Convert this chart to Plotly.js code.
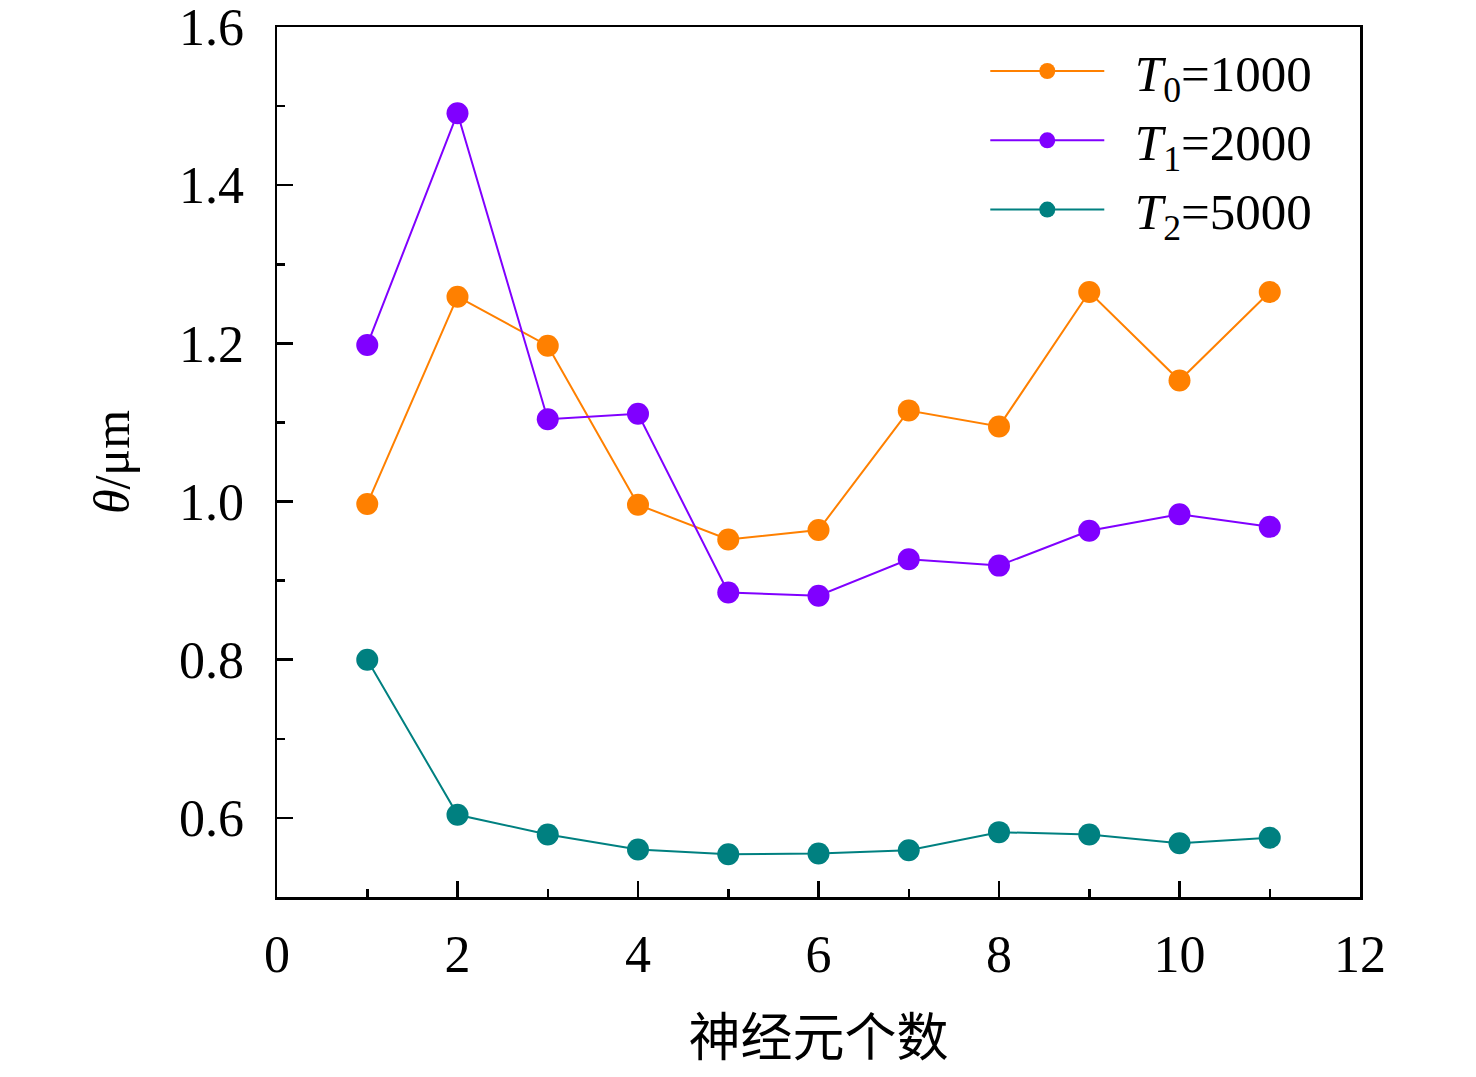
<!DOCTYPE html>
<html>
<head>
<meta charset="utf-8">
<script src="https://cdn.plot.ly/plotly-3.0.1.min.js"></script>
<style>html,body{margin:0;padding:0;background:#fff;}#chart{width:1476px;height:1077px;}</style>
</head>
<body>
<div id="chart"></div>
<script>
const neurons = [1,2,3,4,5,6,7,8,9,10,11];
const t0Values = [0.997,1.259,1.197,0.996,0.952,0.964,1.115,1.095,1.265,1.153,1.265];
const t1Values = [1.198,1.491,1.104,1.111,0.885,0.881,0.927,0.919,0.963,0.984,0.968];
const t2Values = [0.800,0.604,0.579,0.560,0.554,0.555,0.559,0.582,0.579,0.568,0.575];
const seriesNames = ['  <i>T</i><sub>0</sub>=1000','  <i>T</i><sub>1</sub>=2000','  <i>T</i><sub>2</sub>=5000'];
const seriesColors = ['#FF8000','#8000FF','#008080'];
const xTitle = '神经元个数';
const yTitle = '<i>θ</i>/μm';

const serif = 'Liberation Serif';
const allValues = [t0Values, t1Values, t2Values];
const traces = allValues.map((vals, i) => ({
  x: neurons, y: vals, type: 'scatter', mode: 'lines+markers',
  name: seriesNames[i],
  line: {color: seriesColors[i], width: 2},
  marker: {color: seriesColors[i], size: 22}
}));

const layout = {
  width: 1476, height: 1077,
  margin: {l: 277, r: 116, t: 27, b: 180},
  paper_bgcolor: '#fff', plot_bgcolor: '#fff',
  font: {family: serif, size: 52, color: '#000'},
  showlegend: true,
  legend: {x: 0.654, y: 0.995, xanchor: 'left', yanchor: 'top',
    font: {family: serif, size: 51, color: '#000'}, bgcolor: 'rgba(0,0,0,0)',
    itemwidth: 114, tracegroupgap: 0},
  xaxis: {range: [0, 12], dtick: 2, tick0: 0, showgrid: false, zeroline: false,
    showline: true, linecolor: '#000', linewidth: 2.5, mirror: true,
    ticks: 'inside', ticklen: 16, tickwidth: 2.5, tickcolor: '#000',
    ticklabelstandoff: 10, ticklabeloverflow: 'allow',
    minor: {dtick: 1, ticks: 'inside', ticklen: 8, tickwidth: 2.5, tickcolor: '#000', showgrid: false},
    tickfont: {family: serif, size: 52},
    title: {text: xTitle, font: {family: 'Noto Sans CJK SC', size: 52}, standoff: 38}},
  yaxis: {range: [0.5, 1.6], dtick: 0.2, tick0: 0.6, showgrid: false, zeroline: false,
    showline: true, linecolor: '#000', linewidth: 2.5, mirror: true,
    ticks: 'inside', ticklen: 16, tickwidth: 2.5, tickcolor: '#000',
    ticklabelstandoff: 20, tickformat: '.1f', ticklabeloverflow: 'allow',
    minor: {dtick: 0.1, tick0: 0.5, ticks: 'inside', ticklen: 8, tickwidth: 2.5, tickcolor: '#000', showgrid: false},
    tickfont: {family: serif, size: 52},
    title: {text: yTitle, font: {family: serif, size: 50}, standoff: 34}}
};

Plotly.newPlot('chart', traces, layout, {displayModeBar: false, staticPlot: true});
</script>
</body>
</html>
